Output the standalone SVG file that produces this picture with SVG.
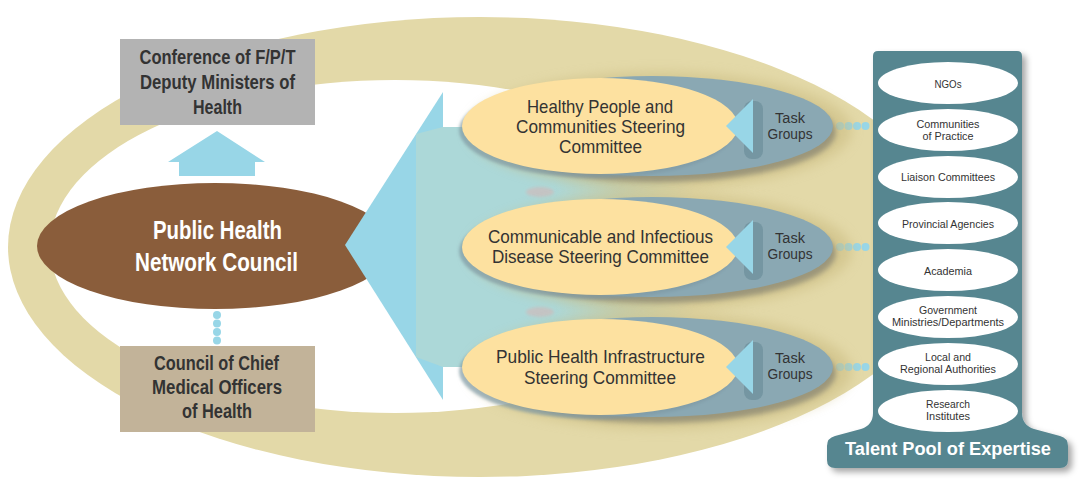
<svg xmlns="http://www.w3.org/2000/svg" width="1082" height="500" viewBox="0 0 1082 500">
<defs>
<style>
.t{font-family:"Liberation Sans Narrow","Liberation Sans",Arial,sans-serif;text-anchor:middle;fill:#333333}
.bx{font-size:20px;font-weight:bold}
.cm{font-size:18.5px}
.tg{font-size:14px}
.it{font-size:11px}
.wb{fill:#ffffff;font-weight:bold}
.dot{fill:#98d6e7}
.yel{fill:#fde1a0}
.gb{fill:#8aa8b3}
.tri{fill:#98d6e7}
</style>
<linearGradient id="bg" gradientUnits="userSpaceOnUse" x1="416" y1="0" x2="745" y2="0">
<stop offset="0" stop-color="#acd8d8"/>
<stop offset="0.42" stop-color="#acd8d8"/>
<stop offset="0.62" stop-color="#c4d2b6"/>
<stop offset="0.85" stop-color="#e3d9a8"/>
<stop offset="1" stop-color="#e3d9a8"/>
</linearGradient>
<filter id="blur6" x="-20%" y="-40%" width="140%" height="180%"><feGaussianBlur stdDeviation="6"/></filter>
<filter id="blur3" x="-20%" y="-40%" width="140%" height="180%"><feGaussianBlur stdDeviation="2.5"/></filter>
<filter id="blur1" x="-20%" y="-40%" width="140%" height="180%"><feGaussianBlur stdDeviation="1.5"/></filter>
<filter id="colsh" x="-20%" y="-10%" width="150%" height="130%">
<feGaussianBlur in="SourceAlpha" stdDeviation="3"/>
<feOffset dx="4" dy="4" result="o"/>
<feFlood flood-color="#000000" flood-opacity="0.35"/>
<feComposite in2="o" operator="in"/>
<feMerge><feMergeNode/><feMergeNode in="SourceGraphic"/></feMerge>
</filter>
</defs>

<rect width="1082" height="500" fill="#ffffff"/>

<g id="ring">
<ellipse cx="480" cy="247" rx="472" ry="230" fill="#e3d9a8"/>
<ellipse cx="395" cy="246.5" rx="345" ry="166.5" fill="#ffffff"/>
<path d="M416,134 L443,127 L745,127 L745,367 L443,367 L416,357 Z" fill="url(#bg)"/>
<ellipse cx="540" cy="192" rx="14" ry="5" fill="#c4c4c4" filter="url(#blur1)"/>
<ellipse cx="540" cy="312" rx="14" ry="5" fill="#c4c4c4" filter="url(#blur1)"/>
</g>

<g id="council">
<ellipse cx="215" cy="246" rx="178" ry="63" fill="#8a5d3b"/>
<text class="t wb" x="217.5" y="239" font-size="25" textLength="129" lengthAdjust="spacingAndGlyphs">Public Health</text>
<text class="t wb" x="216.5" y="271" font-size="25" textLength="163" lengthAdjust="spacingAndGlyphs">Network Council</text>
</g>

<g id="fanout">
<polygon points="443,92 345,245 443,400" fill="#98d6e7"/>
<path d="M416,134 L443,127 L443,367 L416,357 Z" fill="#acd8d8"/>
</g>

<g id="connectors">
<polygon points="217,131 265,162 255,162 255,176 179,176 179,162 168,162" fill="#98d6e7"/>
<circle class="dot" cx="217" cy="315" r="4"/>
<circle class="dot" cx="217" cy="323.5" r="4"/>
<circle class="dot" cx="217" cy="332" r="4"/>
<circle class="dot" cx="217" cy="340.5" r="4"/>
<circle class="dot" cx="840" cy="126" r="4"/><circle class="dot" cx="848.5" cy="126" r="4"/><circle class="dot" cx="857" cy="126" r="4"/><circle class="dot" cx="865.5" cy="126" r="4"/>
<circle class="dot" cx="840" cy="247" r="4"/><circle class="dot" cx="848.5" cy="247" r="4"/><circle class="dot" cx="857" cy="247" r="4"/><circle class="dot" cx="865.5" cy="247" r="4"/>
<circle class="dot" cx="840" cy="367" r="4"/><circle class="dot" cx="848.5" cy="367" r="4"/><circle class="dot" cx="857" cy="367" r="4"/><circle class="dot" cx="865.5" cy="367" r="4"/>
</g>

<g id="conference">
<rect x="120" y="39" width="195" height="86" fill="#b3b3b3"/>
<text class="t bx" x="217.5" y="64" textLength="156" lengthAdjust="spacingAndGlyphs">Conference of F/P/T</text>
<text class="t bx" x="217.5" y="89" textLength="155" lengthAdjust="spacingAndGlyphs">Deputy Ministers of</text>
<text class="t bx" x="217.5" y="114" textLength="49" lengthAdjust="spacingAndGlyphs">Health</text>
</g>

<g id="cmoh">
<rect x="120" y="346" width="195" height="86" fill="#c2b399"/>
<text class="t bx" x="216.5" y="370" textLength="125" lengthAdjust="spacingAndGlyphs">Council of Chief</text>
<text class="t bx" x="217" y="394" textLength="130" lengthAdjust="spacingAndGlyphs">Medical Officers</text>
<text class="t bx" x="217" y="418" textLength="70" lengthAdjust="spacingAndGlyphs">of Health</text>
</g>

<g id="committee1">
<ellipse cx="660" cy="130" rx="192" ry="58" fill="#c9ba7f" opacity="0.55" filter="url(#blur6)"/>
<ellipse cx="658" cy="132" rx="178" ry="50" fill="#8e8a74" opacity="0.8" filter="url(#blur3)"/>
<ellipse class="gb" cx="652" cy="126" rx="181" ry="50"/>
<ellipse cx="597" cy="130" rx="138" ry="48" fill="#7f9aa5" opacity="0.7" filter="url(#blur1)"/>
<ellipse class="yel" cx="600" cy="126" rx="138" ry="48"/>
<rect x="744" y="101" width="19" height="58" rx="8" fill="#7596a2"/>
<polygon class="tri" points="726,126 753,99 753,153"/>
<text class="t cm" x="600" y="113" textLength="146" lengthAdjust="spacingAndGlyphs">Healthy People and</text>
<text class="t cm" x="600.5" y="133" textLength="169" lengthAdjust="spacingAndGlyphs">Communities Steering</text>
<text class="t cm" x="600.5" y="153" textLength="83" lengthAdjust="spacingAndGlyphs">Committee</text>
<text class="t tg" x="790" y="123" textLength="30" lengthAdjust="spacingAndGlyphs">Task</text>
<text class="t tg" x="790" y="139" textLength="45" lengthAdjust="spacingAndGlyphs">Groups</text>
</g>

<g id="committee2">
<ellipse cx="660" cy="251" rx="192" ry="58" fill="#c9ba7f" opacity="0.55" filter="url(#blur6)"/>
<ellipse cx="658" cy="253" rx="178" ry="50" fill="#8e8a74" opacity="0.8" filter="url(#blur3)"/>
<ellipse class="gb" cx="652" cy="247" rx="181" ry="50"/>
<ellipse cx="597" cy="251" rx="138" ry="48" fill="#7f9aa5" opacity="0.7" filter="url(#blur1)"/>
<ellipse class="yel" cx="600" cy="247" rx="138" ry="48"/>
<rect x="744" y="222" width="19" height="58" rx="8" fill="#7596a2"/>
<polygon class="tri" points="726,247 753,220 753,274"/>
<text class="t cm" x="600.5" y="243" textLength="225" lengthAdjust="spacingAndGlyphs">Communicable and Infectious</text>
<text class="t cm" x="600.5" y="263" textLength="217" lengthAdjust="spacingAndGlyphs">Disease Steering Committee</text>
<text class="t tg" x="790" y="243" textLength="30" lengthAdjust="spacingAndGlyphs">Task</text>
<text class="t tg" x="790" y="259" textLength="45" lengthAdjust="spacingAndGlyphs">Groups</text>
</g>

<g id="committee3">
<ellipse cx="660" cy="371" rx="192" ry="58" fill="#c9ba7f" opacity="0.55" filter="url(#blur6)"/>
<ellipse cx="658" cy="373" rx="178" ry="50" fill="#8e8a74" opacity="0.8" filter="url(#blur3)"/>
<ellipse class="gb" cx="652" cy="367" rx="181" ry="50"/>
<ellipse cx="597" cy="371" rx="138" ry="48" fill="#7f9aa5" opacity="0.7" filter="url(#blur1)"/>
<ellipse class="yel" cx="600" cy="367" rx="138" ry="48"/>
<rect x="744" y="342" width="19" height="58" rx="8" fill="#7596a2"/>
<polygon class="tri" points="726,367 753,340 753,394"/>
<text class="t cm" x="600.5" y="363" textLength="209" lengthAdjust="spacingAndGlyphs">Public Health Infrastructure</text>
<text class="t cm" x="600" y="384" textLength="152" lengthAdjust="spacingAndGlyphs">Steering Committee</text>
<text class="t tg" x="790" y="363" textLength="30" lengthAdjust="spacingAndGlyphs">Task</text>
<text class="t tg" x="790" y="379" textLength="45" lengthAdjust="spacingAndGlyphs">Groups</text>
</g>

<g id="talent-pool">
<path d="M878,51 H1017 Q1022,51 1022,56 V413 Q1022,425 1034,429 L1060,436 Q1068,438 1068,446 V460 Q1068,468 1060,468 H835 Q827,468 827,460 V446 Q827,438 835,436 L861,429 Q873,425 873,413 V56 Q873,51 878,51 Z" fill="#568690" filter="url(#colsh)"/>
<text class="t wb" x="948" y="455" font-size="19" textLength="206" lengthAdjust="spacingAndGlyphs">Talent Pool of Expertise</text>
</g>

<g id="ngos"><ellipse cx="948" cy="83" rx="70" ry="21" fill="#fff"/><text class="t it" x="948" y="87.5" textLength="27" lengthAdjust="spacingAndGlyphs">NGOs</text></g>
<g id="communities"><ellipse cx="948" cy="130" rx="70" ry="21" fill="#fff"/><text class="t it" x="948" y="127.5" textLength="63" lengthAdjust="spacingAndGlyphs">Communities</text><text class="t it" x="948" y="139.5" textLength="51" lengthAdjust="spacingAndGlyphs">of Practice</text></g>
<g id="liaison"><ellipse cx="948" cy="177" rx="70" ry="21" fill="#fff"/><text class="t it" x="948" y="181" textLength="94" lengthAdjust="spacingAndGlyphs">Liaison Committees</text></g>
<g id="provincial"><ellipse cx="948" cy="223" rx="70" ry="21" fill="#fff"/><text class="t it" x="948" y="227.5" textLength="92" lengthAdjust="spacingAndGlyphs">Provincial Agencies</text></g>
<g id="academia"><ellipse cx="948" cy="270" rx="70" ry="21" fill="#fff"/><text class="t it" x="948" y="274.5" textLength="48" lengthAdjust="spacingAndGlyphs">Academia</text></g>
<g id="government"><ellipse cx="948" cy="317" rx="70" ry="21" fill="#fff"/><text class="t it" x="948" y="313.5" textLength="58" lengthAdjust="spacingAndGlyphs">Government</text><text class="t it" x="948" y="326" textLength="112" lengthAdjust="spacingAndGlyphs">Ministries/Departments</text></g>
<g id="local"><ellipse cx="948" cy="364" rx="70" ry="21" fill="#fff"/><text class="t it" x="948" y="360.5" textLength="46" lengthAdjust="spacingAndGlyphs">Local and</text><text class="t it" x="948" y="372.5" textLength="96" lengthAdjust="spacingAndGlyphs">Regional Authorities</text></g>
<g id="research"><ellipse cx="948" cy="411" rx="70" ry="21" fill="#fff"/><text class="t it" x="948" y="407.5" textLength="44" lengthAdjust="spacingAndGlyphs">Research</text><text class="t it" x="948" y="420" textLength="44" lengthAdjust="spacingAndGlyphs">Institutes</text></g>
</svg>
